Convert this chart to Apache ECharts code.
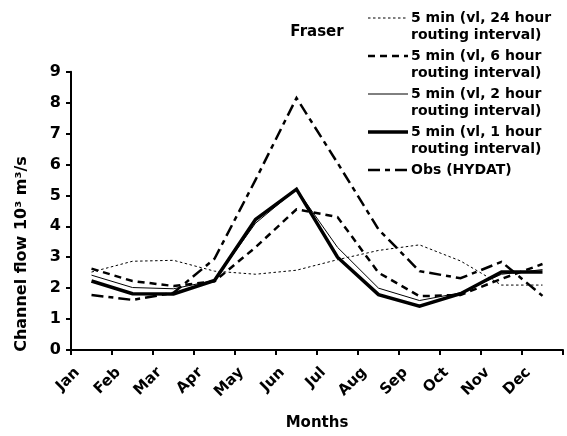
<!DOCTYPE html>
<html>
<head>
<meta charset="utf-8">
<script src="https://cdn.jsdelivr.net/npm/echarts@6/dist/echarts.min.js"></script>
<style>html,body{margin:0;padding:0;background:#fff}#c{width:567px;height:436px}</style>
</head>
<body>
<div id="c"></div>
<script>
const months = ['Jan','Feb','Mar','Apr','May','Jun','Jul','Aug','Sep','Oct','Nov','Dec'];
const yTicks = [0,1,2,3,4,5,6,7,8,9];
const s24h = [2.52, 2.87, 2.90, 2.55, 2.45, 2.58, 2.92, 3.22, 3.40, 2.88, 2.10, 2.10];
const s6h  = [2.63, 2.23, 2.07, 2.22, 3.32, 4.55, 4.30, 2.50, 1.74, 1.78, 2.30, 2.78];
const s2h  = [2.42, 2.02, 1.98, 2.25, 4.10, 5.20, 3.32, 2.00, 1.60, 1.85, 2.45, 2.60];
const s1h  = [2.23, 1.82, 1.81, 2.25, 4.22, 5.20, 3.00, 1.79, 1.42, 1.82, 2.52, 2.52];
const obs  = [1.78, 1.62, 1.85, 2.95, 5.50, 8.15, 6.05, 3.90, 2.55, 2.32, 2.85, 1.75];
const names = [
  '5 min (vl, 24 hour\nrouting interval)',
  '5 min (vl, 6 hour\nrouting interval)',
  '5 min (vl, 2 hour\nrouting interval)',
  '5 min (vl, 1 hour\nrouting interval)',
  'Obs (HYDAT)'
];
const dataSets = [s24h, s6h, s2h, s1h, obs];
const styles = [
  {width: 1, type: [2.5, 2.5]},
  {width: 2.5, type: [7, 5]},
  {width: 1, type: 'solid'},
  {width: 3.5, type: 'solid'},
  {width: 2.5, type: [12, 5, 5, 5]}
];
const FONT = 'DejaVu Sans';

const chart = echarts.init(document.getElementById('c'), null, {renderer: 'canvas'});

const series = dataSets.map((d, i) => ({
  name: names[i],
  type: 'line',
  data: d,
  symbol: 'none',
  z: 10 - i,
  lineStyle: {color: '#000', width: styles[i].width, type: styles[i].type, cap: 'butt', join: 'miter'}
}));

const graphics = [
  {type: 'text', x: 317, y: 32, style: {text: 'Fraser', font: 'bold 15px ' + FONT, fill: '#000', align: 'center', verticalAlign: 'middle'}},
  {type: 'text', x: 22, y: 254, rotation: Math.PI / 2, style: {text: 'Channel flow 10\u00B3 m\u00B3/s', font: 'bold 16px ' + FONT, fill: '#000', align: 'center', verticalAlign: 'middle'}}
];
names.forEach((n, i) => {
  const yc = 18 + i * 38;
  graphics.push({type: 'line', shape: {x1: 368, y1: yc, x2: 408, y2: yc},
    style: {stroke: '#000', lineWidth: styles[i].width, lineDash: Array.isArray(styles[i].type) ? styles[i].type : null}});
  graphics.push({type: 'text', x: 411, y: yc - 8.5,
    style: {text: n, font: 'bold 14px ' + FONT, fill: '#000', lineHeight: 17, align: 'left', verticalAlign: 'top'}});
});

chart.setOption({
  animation: false,
  backgroundColor: '#fff',
  grid: {left: 71, right: 4, top: 71.7, bottom: 79.3, containLabel: false},
  xAxis: {
    type: 'category',
    data: months,
    boundaryGap: true,
    name: 'Months',
    nameLocation: 'middle',
    nameGap: 66,
    nameTextStyle: {fontFamily: FONT, fontWeight: 'bold', fontSize: 15, color: '#000'},
    axisLine: {lineStyle: {color: '#000', width: 2}},
    axisTick: {show: true, inside: false, length: 5, interval: 0, lineStyle: {color: '#000', width: 2}},
    axisLabel: {rotate: 45, interval: 0, margin: 6, padding: [0, 20, 0, 0], fontFamily: FONT, fontWeight: 'bold', fontSize: 15, color: '#000'},
    splitLine: {show: false}
  },
  yAxis: {
    type: 'value',
    min: yTicks[0],
    max: yTicks[yTicks.length - 1],
    interval: 1,
    axisLine: {show: true, lineStyle: {color: '#000', width: 2}},
    axisTick: {show: true, inside: false, length: 5, lineStyle: {color: '#000', width: 2}},
    axisLabel: {margin: 10, fontFamily: FONT, fontWeight: 'bold', fontSize: 16, color: '#000'},
    splitLine: {show: false}
  },
  series: series,
  graphic: graphics
});
</script>
</body>
</html>
